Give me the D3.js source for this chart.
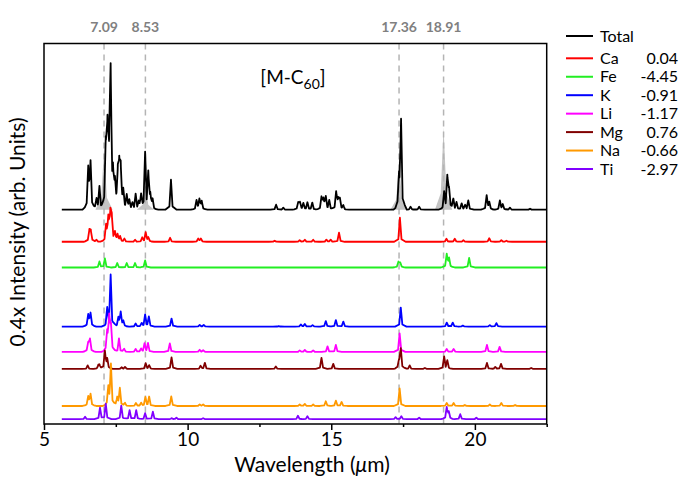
<!DOCTYPE html>
<html><head><meta charset="utf-8">
<script src="https://cdn.jsdelivr.net/npm/d3@7"></script>
<style>body{margin:0;background:#fff} svg{display:block;font-family:Lato,'Open Sans',sans-serif}</style>
</head><body><svg id="c" width="692" height="485"></svg>
<script>
// ---------------- data ----------------
const seriesNames = ["Total","Ca","Fe","K","Li","Mg","Na","Ti"];
const seriesLabels = ["", "0.04", "-4.45", "-0.91", "-1.17", "0.76", "-0.66", "-2.97"];
const seriesColors = ["#000000","#ff0000","#22ee22","#0000ff","#ff00ff","#800000","#ff9900","#8000ff"];
const seriesOffsets = [21.4, 18.2, 15.63, 9.73, 7.2, 5.5, 1.8, 0.48];

// peak lists: [wavelength (um), intensity (arb.)]
const peaksTotal = [[6.54,4.0],[6.62,4.6],[6.83,1.0],[6.93,2.3],[7.15,6.0],[7.21,7.5],[7.27,4.5],[7.32,12.8],[7.40,3.0],[7.47,2.2],[7.57,3.3],[7.62,3.9],[7.67,3.8],[7.76,1.6],[7.88,1.4],[7.97,0.9],[8.08,0.6],[8.19,1.5],[8.30,0.7],[8.38,1.3],[8.52,5.5],[8.63,3.4],[8.70,1.3],[8.78,0.9],[9.42,3.0],[10.31,0.9],[10.41,1.0],[10.49,0.8],[13.08,0.5],[13.33,0.2],[13.85,0.7],[13.91,0.7],[14.03,0.6],[14.17,0.7],[14.34,0.7],[14.66,1.2],[14.73,1.0],[14.81,1.2],[14.93,0.9],[15.17,1.7],[15.24,1.0],[15.30,1.0],[15.42,0.4],[17.36,3.0],[17.43,8.8],[17.76,0.3],[18.06,0.3],[18.93,1.6],[19.04,3.2],[19.10,1.9],[19.25,1.0],[19.36,0.7],[19.54,0.6],[19.66,0.4],[19.77,0.9],[20.41,1.4],[20.50,0.7],[20.87,0.9],[20.97,0.5],[21.22,0.2],[21.92,0.1]];
const peaksCa = [[6.58,1.1],[6.63,1.0],[6.83,0.2],[7.16,1.5],[7.24,2.2],[7.31,2.7],[7.36,2.2],[7.47,0.8],[7.56,0.7],[7.65,0.5],[7.80,0.3],[8.17,0.2],[8.42,0.4],[8.54,0.9],[8.63,0.4],[9.39,0.4],[10.37,0.3],[10.46,0.3],[13.03,0.1],[13.90,0.15],[14.08,0.2],[14.37,0.2],[14.83,0.2],[14.98,0.2],[15.27,0.9],[17.39,2.4],[19.01,0.3],[19.30,0.3],[19.60,0.15],[20.50,0.35],[20.92,0.15],[21.10,0.1]];
const peaksFe = [[6.93,0.6],[7.12,0.9],[7.55,0.45],[7.88,0.45],[8.17,0.45],[8.52,0.7],[17.34,0.55],[17.40,0.45],[19.02,1.3],[19.10,0.9],[19.80,0.95]];
const peaksK = [[6.54,1.15],[6.62,1.3],[7.20,1.65],[7.32,5.1],[7.59,0.85],[7.67,1.4],[7.76,0.5],[8.19,0.3],[8.40,0.3],[8.52,1.15],[8.65,0.95],[9.44,0.8],[10.42,0.15],[10.56,0.15],[13.17,0.05],[13.94,0.2],[14.08,0.25],[14.35,0.15],[14.81,0.55],[15.16,0.65],[15.42,0.5],[17.42,1.9],[19.02,0.4],[19.23,0.4],[19.58,0.1],[20.52,0.15],[20.75,0.35]];
const peaksLi = [[6.54,0.9],[6.60,1.25],[7.20,1.8],[7.27,3.4],[7.33,2.5],[7.61,1.35],[7.79,0.3],[8.19,0.3],[8.38,0.3],[8.50,0.8],[8.62,0.85],[9.38,0.85],[10.42,0.2],[10.54,0.15],[13.90,0.15],[14.08,0.2],[14.37,0.15],[14.87,0.55],[15.16,0.7],[17.38,1.85],[19.02,0.3],[19.26,0.3],[20.42,0.7],[20.86,0.5]];
const peaksMg = [[6.52,0.35],[6.89,0.3],[6.93,0.35],[7.12,1.75],[7.20,0.95],[7.70,0.15],[7.82,0.2],[8.54,0.55],[8.66,0.35],[9.44,1.15],[10.45,0.3],[10.60,0.6],[13.07,0.25],[14.66,1.1],[15.07,0.5],[17.36,0.8],[17.42,2.0],[17.73,0.35],[18.26,0.1],[18.93,1.2],[19.04,0.8],[20.42,0.6],[20.71,0.2],[20.91,0.5],[21.96,0.1]];
const peaksNa = [[6.54,0.9],[6.62,1.15],[7.24,1.75],[7.33,4.1],[7.55,0.8],[7.64,1.75],[7.82,0.3],[8.20,0.3],[8.38,0.3],[8.53,0.85],[8.66,0.9],[9.43,0.95],[10.42,0.15],[10.54,0.15],[13.90,0.15],[14.08,0.2],[14.37,0.15],[14.81,0.47],[15.16,0.53],[15.36,0.4],[17.38,1.75],[19.02,0.3],[19.26,0.3],[19.65,0.1],[20.52,0.15],[20.92,0.3],[21.40,0.1]];
const peaksTi = [[6.43,0.25],[6.95,1.15],[7.15,1.55],[7.69,1.35],[7.98,0.9],[8.21,0.9],[8.52,0.6],[8.79,0.75],[9.44,0.1],[9.61,0.15],[10.54,0.1],[13.84,0.35],[14.17,0.3],[17.24,0.2],[17.44,0.3],[18.06,0.15],[19.02,1.15],[19.09,0.7],[19.49,0.5],[20.05,0.15]];
const seriesPeaks = [peaksTotal, peaksCa, peaksFe, peaksK, peaksLi, peaksMg, peaksNa, peaksTi];

const grayPeaks = [[7.09,6.0],[8.53,2.5],[17.36,5.0],[18.91,8.2]];
const markerLines = [7.09, 8.53, 17.36, 18.91];
const markerLabels = ["7.09","8.53","17.36","18.91"];
const xTicks = [5,10,15,20];
const xMinorTicks = [7.5,12.5,17.5,22.5];
const spectrumRange = [5.62, 22.5];

// ---------------- layout ----------------
const svg = d3.select("#c");
const L = 44, R = 546.7, T = 43.5, B = 424;
const x = d3.scaleLinear().domain([5,22.5]).range([L,R]);
const y = d3.scaleLinear().domain([0,38]).range([B,T]);

function tri(v,c,hw,h){ const d=Math.abs(v-c); return d>=hw?0:h*(1-d/hw); }
function profile(peaks, nhw, shw, sfrac){
  const [s,e] = spectrumRange;
  const xs = new Set([s,e]);
  peaks.forEach(([c])=>[c-shw,c-nhw,c,c+nhw,c+shw].forEach(v=>{ if(v>s&&v<e) xs.add(+v.toFixed(5)); }));
  return Array.from(xs).sort((a,b)=>a-b).map(v=>[v, d3.sum(peaks,([c,h])=>tri(v,c,nhw,h*(1-sfrac))+tri(v,c,shw,h*sfrac))]);
}

svg.append("defs").append("clipPath").attr("id","clip")
  .append("rect").attr("x",L).attr("y",T).attr("width",R-L).attr("height",B-T);
const plot = svg.append("g").attr("clip-path","url(#clip)");

// gray reference peaks under Total
const gp = profile(grayPeaks, 0.1, 0.3, 0.3);
plot.append("path").datum(gp)
  .attr("fill","#c4c4c4").attr("stroke","none")
  .attr("d", d3.area().x(d=>x(d[0])).y0(y(seriesOffsets[0])).y1(d=>y(seriesOffsets[0]+d[1])));

// dashed marker lines
plot.selectAll("line.mk").data(markerLines).join("line")
  .attr("x1",d=>x(d)).attr("x2",d=>x(d)).attr("y1",T).attr("y2",B)
  .attr("stroke","#b4b4b4").attr("stroke-width",1.5).attr("stroke-dasharray","6,5");

// spectra
const line = d3.line().x(d=>x(d[0])).y(d=>y(d[1]));
seriesPeaks.forEach((pk,i)=>{
  const pts = profile(pk, 0.055, 0.2, 0.15).map(([a,b])=>[a,b+seriesOffsets[i]]);
  plot.append("path").datum(pts).attr("fill","none")
    .attr("stroke",seriesColors[i]).attr("stroke-width",1.8).attr("stroke-linejoin","round")
    .attr("d",line);
});

// frame
svg.append("rect").attr("x",L).attr("y",T).attr("width",R-L).attr("height",B-T)
  .attr("fill","none").attr("stroke","#000").attr("stroke-width",1.5);

// x axis
const ax = svg.append("g").attr("transform",`translate(0,${B})`)
  .call(d3.axisBottom(x).tickValues(xTicks).tickSize(6).tickPadding(3).tickFormat(d3.format("d")));
ax.select(".domain").remove();
ax.selectAll("line").attr("stroke-width",1.5);
ax.selectAll("text").attr("font-size",19).attr("font-family","Lato,'Open Sans',sans-serif").attr("fill","#000");
const axm = svg.append("g").attr("transform",`translate(0,${B})`)
  .call(d3.axisBottom(x).tickValues(xMinorTicks).tickSize(3).tickFormat(""));
axm.select(".domain").remove();
axm.selectAll("line").attr("stroke-width",1.5);

// axis titles
const xt = svg.append("text").attr("x",312).attr("y",472).attr("text-anchor","middle").attr("font-size",21);
xt.append("tspan").text("Wavelength (");
xt.append("tspan").attr("font-style","italic").text("\u03bc");
xt.append("tspan").text("m)");
svg.append("text").attr("transform",`translate(25,232) rotate(-90)`)
  .attr("text-anchor","middle").attr("font-size",21).text("0.4x Intensity (arb. Units)");

// marker labels
svg.selectAll("text.ml").data(markerLines).join("text")
  .attr("x",d=>x(d)).attr("y",32).attr("text-anchor","middle")
  .attr("font-size",14).attr("font-weight","bold").attr("fill","#808080")
  .text((d,i)=>markerLabels[i]);

// annotation
const an = svg.append("text").attr("x",293).attr("y",84).attr("text-anchor","middle").attr("font-size",19);
an.append("tspan").text("[M-C");
an.append("tspan").attr("font-size",14).attr("dy",5).text("60");
an.append("tspan").attr("dy",-5).text("]");

// legend
const lg = svg.append("g");
seriesNames.forEach((n,i)=>{
  const ry = i===0 ? 36 : 58.3 + (i-1)*18.45;
  lg.append("line").attr("x1",566).attr("x2",593).attr("y1",ry).attr("y2",ry)
    .attr("stroke",seriesColors[i]).attr("stroke-width",2);
  lg.append("text").attr("x",600).attr("y",ry).attr("dy","0.35em").attr("font-size",16).text(n);
  if (seriesLabels[i]) lg.append("text").attr("x",678).attr("y",ry).attr("dy","0.35em")
    .attr("text-anchor","end").attr("font-size",16).text(seriesLabels[i]);
});
</script></body></html>
